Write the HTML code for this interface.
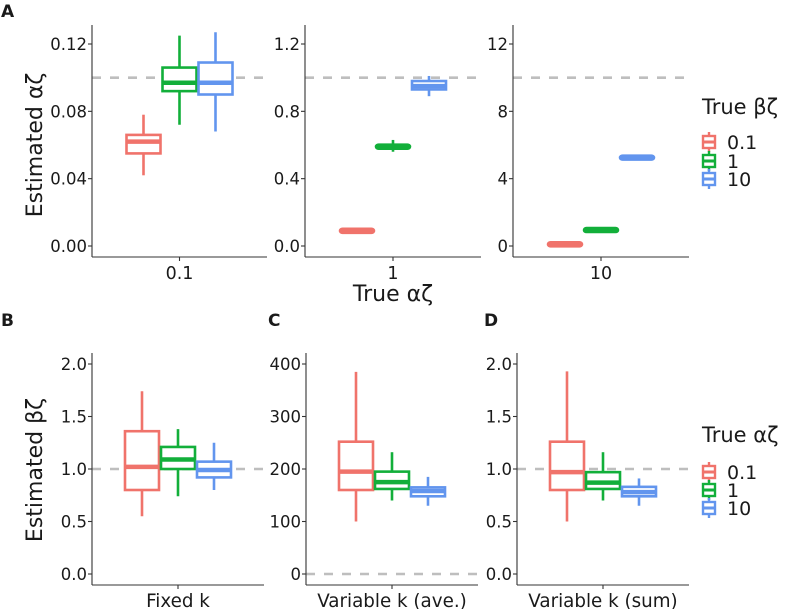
<!DOCTYPE html>
<html><head><meta charset="utf-8"><style>
body{margin:0;background:#fff}
svg text{font-family:"DejaVu Sans","Liberation Sans",sans-serif;fill:#1a1a1a}
</style></head><body>
<svg id="c" width="787" height="609" xmlns="http://www.w3.org/2000/svg">
<text x="1" y="17" font-size="17" font-weight="bold">A</text>
<text x="1" y="326" font-size="17" font-weight="bold">B</text>
<text x="268" y="326" font-size="17" font-weight="bold">C</text>
<text x="484" y="326" font-size="17" font-weight="bold">D</text>
<text transform="translate(42,145) rotate(-90)" text-anchor="middle" font-size="22">Estimated αζ</text>
<text x="393" y="301" text-anchor="middle" font-size="22">True αζ</text>
<text transform="translate(42,470) rotate(-90)" text-anchor="middle" font-size="22">Estimated βζ</text>
</svg>
<script>
const colors=["#F0736B","#12AF3A","#6295EE"];
const groupLabels=["0.1","1","10"];
// each panel: [whiskerLow, boxLow, median, boxHigh, whiskerHigh] for 3 groups
const panelA1=[[0.042,0.055,0.062,0.066,0.078],[0.072,0.092,0.097,0.106,0.125],[0.068,0.090,0.097,0.109,0.127]];
const panelA2=[[0.085,0.085,0.09,0.095,0.095],[0.56,0.58,0.59,0.60,0.63],[0.89,0.93,0.95,0.98,1.01]];
const panelA3=[[0.05,0.05,0.1,0.15,0.15],[0.9,0.9,0.95,1.0,1.0],[5.15,5.15,5.25,5.35,5.4]];
const panelB=[[0.55,0.80,1.02,1.36,1.74],[0.74,1.00,1.09,1.21,1.38],[0.80,0.92,0.99,1.07,1.25]];
const panelC=[[100,160,195,252,385],[140,162,175,195,232],[130,148,158,165,185]];
const panelD=[[0.50,0.80,0.97,1.26,1.93],[0.70,0.81,0.87,0.97,1.16],[0.65,0.74,0.78,0.83,0.91]];
const ticksA1=[0,0.04,0.08,0.12],labA1=["0.00","0.04","0.08","0.12"];
const ticksA2=[0,0.4,0.8,1.2],labA2=["0.0","0.4","0.8","1.2"];
const ticksA3=[0,4,8,12],labA3=["0","4","8","12"];
const ticksB=[0,0.5,1,1.5,2],labB=["0.0","0.5","1.0","1.5","2.0"];
const ticksC=[0,100,200,300,400],labC=["0","100","200","300","400"];
const refA=[0.1,1,10],refB=[1,0,1];
const svg=document.getElementById('c');const NS="http://www.w3.org/2000/svg";
function mk(t,a,p){const e=document.createElementNS(NS,t);for(const k in a)e.setAttribute(k,a[k]);(p||svg).appendChild(e);return e;}
function panel(name,x0,x1,yTop,yBot,yT0,yT1,tmax,ticks,labs,data,xlab,ref,xfs){
 const g=mk('g',{});
 
 
 const y=v=>yT0+(yT1-yT0)*v/tmax;
 const cx=(x0+x1)/2;
 const rl=mk('line',{x1:x0,x2:x1,y1:y(ref),y2:y(ref),stroke:'#BEBEBE','stroke-width':2.6,'stroke-dasharray':'9,9'},g);
 
 
 data.forEach((d,i)=>{
  const bx=cx+(i-1)*36,w=34,col=colors[i];
  const bg=mk('g',{},g);
  
  
  mk('line',{x1:bx,x2:bx,y1:y(d[0]),y2:y(d[4]),stroke:col,'stroke-width':2.6},bg);
  const h=Math.max(y(d[1])-y(d[3]),4);
  mk('rect',{x:bx-w/2,y:(y(d[1])+y(d[3]))/2-h/2,width:w,height:h,fill:'#fff',stroke:col,'stroke-width':2.6,rx:h<6?2.5:0},bg);
  mk('line',{x1:bx-w/2,x2:bx+w/2,y1:y(d[2]),y2:y(d[2]),stroke:col,'stroke-width':4.5},bg);
 });
 mk('line',{x1:x0,x2:x0,y1:yTop,y2:yBot,stroke:'#333','stroke-width':1.1},g);
 mk('line',{x1:x0,x2:x1,y1:yBot,y2:yBot,stroke:'#333','stroke-width':1.1},g);
 mk('line',{x1:cx,x2:cx,y1:yBot,y2:yBot+4,stroke:'#333','stroke-width':1.1},g);
 ticks.forEach((t,i)=>{
  mk('line',{x1:x0-4,x2:x0,y1:y(t),y2:y(t),stroke:'#333','stroke-width':1.1},g);
  const tx=mk('text',{x:x0-5,y:y(t)+6,'text-anchor':'end','font-size':16.5},g);tx.textContent=labs[i];
  
  
 });
 const xl=mk('text',{x:cx,y:yBot+22,'text-anchor':'middle','font-size':xfs},g);xl.textContent=xlab;
 
 
}
panel('panel-a-0-1',92,267,25,257,246,44,0.12,ticksA1,labA1,panelA1,'0.1',refA[0],17.5);
panel('panel-a-1',305,481,25,257,246,44,1.2,ticksA2,labA2,panelA2,'1',refA[1],17.5);
panel('panel-a-10',513,689,25,257,246,44,12,ticksA3,labA3,panelA3,'10',refA[2],17.5);
panel('panel-b',92,264,353,585,574,364,2,ticksB,labB,panelB,'Fixed k',refB[0],18.3);
panel('panel-c',306,478,353,585,574,364,400,ticksC,labC,panelC,'Variable k (ave.)',refB[1],18.3);
panel('panel-d',517,689,353,585,574,364,2,ticksB,labB,panelD,'Variable k (sum)',refB[2],18.3);
function legend(name,title,ty,ys){
 const g=mk('g',{});
 
 
 const t=mk('text',{x:702,y:ty,'font-size':21},g);t.textContent=title;
 ys.forEach((yy,i)=>{
  const c=colors[i];
  mk('line',{x1:709,x2:709,y1:yy-10,y2:yy+10,stroke:c,'stroke-width':2.4},g);
  mk('rect',{x:703,y:yy-6,width:12,height:12,fill:'#fff',stroke:c,'stroke-width':2.4},g);
  mk('line',{x1:703,x2:715,y1:yy,y2:yy,stroke:c,'stroke-width':3},g);
  const l=mk('text',{x:727,y:yy+7,'font-size':19},g);l.textContent=groupLabels[i];
  
  
 });
}
legend('legend-true-beta','True βζ',114,[142,161,179]);
legend('legend-true-alpha','True αζ',442,[472,490,508]);
</script>
</body></html>
